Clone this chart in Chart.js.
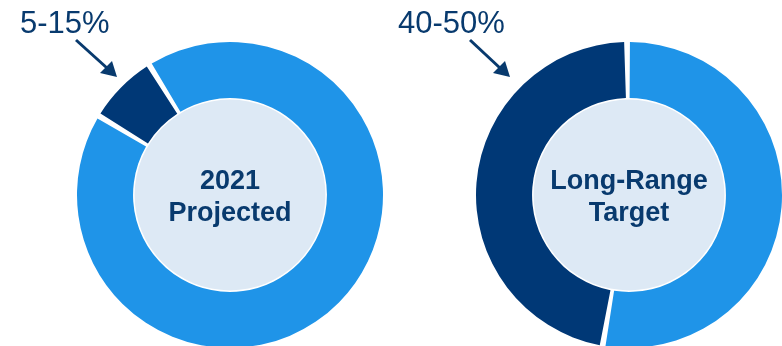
<!DOCTYPE html>
<html>
<head>
<meta charset="utf-8">
<script src="https://cdn.jsdelivr.net/npm/chart.js@4.4.1/dist/chart.umd.min.js"></script>
<style>
  html, body { margin:0; padding:0; background:#fff; width:782px; height:346px; overflow:hidden; position:relative; font-family:"Liberation Sans", Arial, sans-serif; }
  .wrap { position:absolute; width:320px; height:320px; top:35px; }
  .range { position:absolute; top:5px; font-size:31px; color:#083a6e; }
  .center { position:absolute; width:220px; text-align:center; font-weight:bold; font-size:27px; line-height:32px; color:#083a6e; }
  svg { position:absolute; left:0; top:0; }
</style>
</head>
<body>
<div class="wrap" id="w1" style="left:70px"><canvas id="c1"></canvas></div>
<div class="wrap" id="w2" style="left:469px"><canvas id="c2"></canvas></div>
<div class="range" id="r1" style="left:20px"></div>
<div class="range" id="r2" style="left:398px"></div>
<div class="center" id="t1" style="left:120px; top:164px"></div>
<div class="center" id="t2" style="left:519px; top:164px"></div>
<svg width="782" height="346">
  <line x1="76" y1="40" x2="107" y2="68" stroke="#083a6e" stroke-width="3"/>
  <polygon points="117,77 100,73 112,61" fill="#083a6e"/>
  <line x1="470" y1="40" x2="500" y2="68" stroke="#083a6e" stroke-width="3"/>
  <polygon points="510,77 493,73 505,61" fill="#083a6e"/>
</svg>
<script>
// data
const chartTitles = [['2021', 'Projected'], ['Long-Range', 'Target']]
const sliceLabels = ['Target share', 'Other']
const projected = [7, 93]
const longRange = [47, 53]
const rangeLabels = ['5-15%', '40-50%']
const rotations = [-58, 190]

const DARK = '#003876', RING = '#1f94e8', INNER = '#dde9f5'

// fill the hole of the doughnut with a light disc
const innerDisc = {
  id: 'innerDisc',
  beforeDatasetsDraw(chart){
    const arc = chart.getDatasetMeta(0).data[0]
    if (!arc) return
    const ctx = chart.ctx
    ctx.save()
    ctx.beginPath()
    ctx.arc(arc.x, arc.y, arc.innerRadius, 0, Math.PI*2)
    ctx.fillStyle = INNER
    ctx.fill()
    ctx.restore()
  }
}

function makeDonut(id, data, rotation){
  const ctx = document.getElementById(id).getContext('2d')
  return new Chart(ctx, {
    type: 'doughnut',
    data: { labels: sliceLabels, datasets: [{ data, backgroundColor: [DARK, RING], borderWidth: 0, spacing: 3 }] },
    options: {
      responsive: true, maintainAspectRatio: false, animation: false,
      rotation, cutout: '63%',
      layout: { padding: 7 },
      plugins: { legend: { display: false }, tooltip: { enabled: false } }
    },
    plugins: [innerDisc]
  })
}

makeDonut('c1', projected, rotations[0])
makeDonut('c2', longRange, rotations[1])

document.getElementById('r1').textContent = rangeLabels[0]
document.getElementById('r2').textContent = rangeLabels[1]
document.getElementById('t1').innerHTML = chartTitles[0].join('<br>')
document.getElementById('t2').innerHTML = chartTitles[1].join('<br>')
</script>
</body>
</html>
